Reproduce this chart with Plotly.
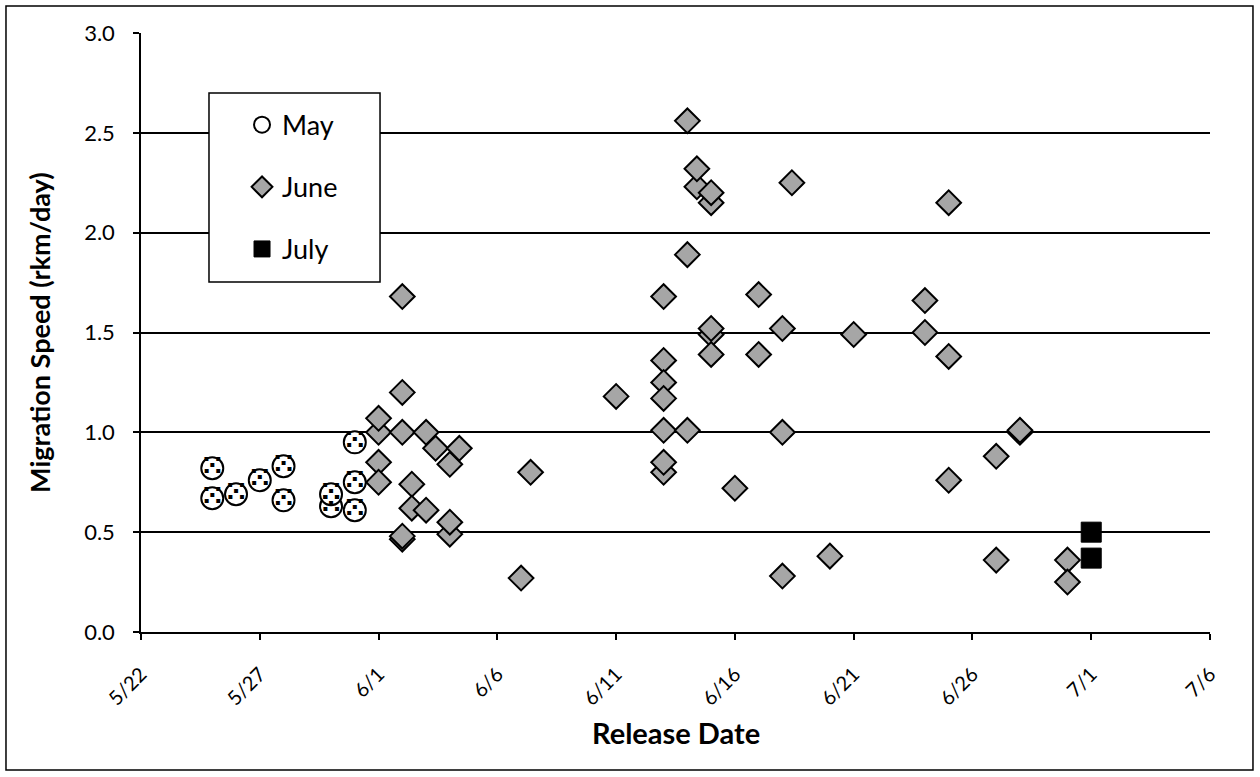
import plotly.graph_objects as go

# Release date/time of each tagged group and its downstream migration speed (rkm/day)
may_release = [
    "2010-05-25", "2010-05-25", "2010-05-26", "2010-05-27", "2010-05-28", "2010-05-28",
    "2010-05-30", "2010-05-30", "2010-05-31", "2010-05-31", "2010-05-31",
]
may_speed = [0.82, 0.67, 0.69, 0.76, 0.83, 0.66, 0.63, 0.69, 0.95, 0.75, 0.61]

june_release = [
    "2010-06-01", "2010-06-01", "2010-06-01", "2010-06-01",
    "2010-06-02", "2010-06-02", "2010-06-02", "2010-06-02", "2010-06-02",
    "2010-06-02 09:36", "2010-06-02 09:36",
    "2010-06-03", "2010-06-03",
    "2010-06-03 09:36",
    "2010-06-04", "2010-06-04", "2010-06-04",
    "2010-06-04 09:36",
    "2010-06-07",
    "2010-06-07 09:36",
    "2010-06-11",
    "2010-06-13", "2010-06-13", "2010-06-13", "2010-06-13", "2010-06-13", "2010-06-13", "2010-06-13",
    "2010-06-14", "2010-06-14", "2010-06-14",
    "2010-06-14 09:36", "2010-06-14 09:36",
    "2010-06-15", "2010-06-15", "2010-06-15", "2010-06-15", "2010-06-15",
    "2010-06-16",
    "2010-06-17", "2010-06-17",
    "2010-06-18", "2010-06-18", "2010-06-18",
    "2010-06-18 09:36",
    "2010-06-20",
    "2010-06-21",
    "2010-06-24", "2010-06-24",
    "2010-06-25", "2010-06-25", "2010-06-25",
    "2010-06-27", "2010-06-27",
    "2010-06-28", "2010-06-28",
    "2010-06-30", "2010-06-30",
]
june_speed = [
    1.00, 1.07, 0.85, 0.75,
    1.68, 1.20, 1.00, 0.465, 0.48,
    0.74, 0.62,
    1.00, 0.61,
    0.92,
    0.84, 0.49, 0.55,
    0.92,
    0.27,
    0.80,
    1.18,
    1.68, 1.36, 1.25, 1.17, 1.01, 0.80, 0.85,
    2.56, 1.89, 1.01,
    2.23, 2.32,
    2.15, 2.20, 1.49, 1.52, 1.39,
    0.72,
    1.69, 1.39,
    1.52, 1.00, 0.28,
    2.25,
    0.38,
    1.49,
    1.66, 1.50,
    2.15, 1.38, 0.76,
    0.88, 0.36,
    1.00, 1.01,
    0.36, 0.25,
]

july_release = ["2010-07-01", "2010-07-01"]
july_speed = [0.50, 0.37]

x_start, x_end = "2010-05-22", "2010-07-06"
y_ticks = [0.0, 0.5, 1.0, 1.5, 2.0, 2.5, 3.0]

FONT = "Lato"
DAY_MS = 86400000

fig = go.Figure()

# May: white circles with a black speckle pattern
fig.add_trace(go.Scatter(
    x=may_release, y=may_speed, mode="markers", name="May",
    legendgroup="may",
    marker=dict(symbol="circle", size=22, color="white",
                line=dict(color="black", width=2)),
))
fig.add_trace(go.Scatter(
    x=may_release, y=may_speed, mode="text", text=["⁙"] * len(may_speed),
    textposition="middle center", showlegend=False, hoverinfo="skip",
    textfont=dict(family="DejaVu Sans", size=27, color="black", weight="bold"),
))

# June: grey diamonds
fig.add_trace(go.Scatter(
    x=june_release, y=june_speed, mode="markers", name="June",
    legendgroup="june",
    marker=dict(symbol="diamond", size=19, color="#a6a6a6",
                line=dict(color="black", width=2)),
))

# July: solid black squares
fig.add_trace(go.Scatter(
    x=july_release, y=july_speed, mode="markers", name="July",
    legendgroup="july",
    marker=dict(symbol="square", size=20, color="black",
                line=dict(color="black", width=1)),
))

fig.update_layout(
    width=1260, height=777,
    margin=dict(l=141, r=50, t=33, b=145),
    paper_bgcolor="white", plot_bgcolor="white",
    font=dict(family=FONT, color="black"),
    showlegend=True,
    legend=dict(
        x=0.0945, y=0.887, xanchor="left", yanchor="top",
        bgcolor="rgba(0,0,0,0)", borderwidth=0,
        font=dict(family=FONT, size=27, color="black"),
        tracegroupgap=24, itemwidth=30,
    ),
    xaxis=dict(
        type="date", range=[x_start, x_end],
        tick0=x_start, dtick=5 * DAY_MS, tickformat="%-m/%-d",
        tickangle=-45, tickfont=dict(family=FONT, size=20),
        ticks="outside", ticklen=6, tickwidth=1.5, tickcolor="black",
        showline=True, linecolor="black", linewidth=1.5,
        showgrid=False, zeroline=False, ticklabelstandoff=15,
    ),
    yaxis=dict(
        range=[0, 3], tickvals=y_ticks, tickformat=".1f",
        tickfont=dict(family=FONT, size=22),
        ticks="outside", ticklen=6, tickwidth=1.5, tickcolor="black",
        showline=True, linecolor="black", linewidth=1.5,
        showgrid=True, gridcolor="black", gridwidth=1.5,
        zeroline=False, ticklabelstandoff=14,
    ),
    shapes=[
        # outer frame of the chart
        dict(type="rect", xref="paper", yref="paper",
             x0=-0.1263, x1=1.0402, y0=-0.2304, y1=1.0451,
             line=dict(color="black", width=1.5), fillcolor="rgba(0,0,0,0)",
             layer="above"),
        # legend box
        dict(type="rect", xref="paper", yref="paper",
             x0=0.0636, x1=0.2236, y0=0.5843, y1=0.8998,
             line=dict(color="black", width=1.5), fillcolor="white",
             layer="above"),
    ],
    annotations=[
        dict(text="<b>Release Date</b>", xref="paper", yref="paper",
             x=0.5, y=-0.168, xanchor="center", yanchor="middle",
             showarrow=False, font=dict(family=FONT, size=29)),
        dict(text="<b>Migration Speed (rkm/day)</b>", xref="paper", yref="paper",
             x=-0.095, y=0.5, xanchor="center", yanchor="middle", textangle=-90,
             showarrow=False, font=dict(family=FONT, size=27)),
    ],
)

fig.write_html("out.html")
